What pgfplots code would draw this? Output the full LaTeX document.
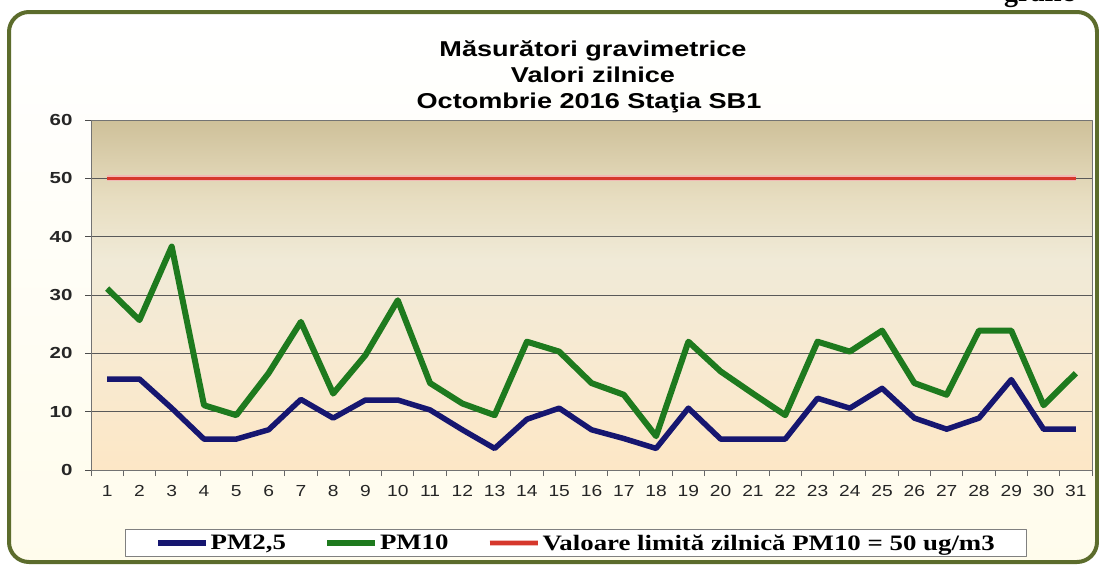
\documentclass[border=0pt]{standalone}
\usepackage{pgfplots}
\pgfplotsset{compat=1.18}
\usepackage{fontspec}
\setmainfont{Liberation Sans}
\newfontfamily\serifb{Liberation Serif}
\definecolor{framecol}{RGB}{92,108,44}
\definecolor{pmblue}{RGB}{22,22,112}
\definecolor{pmgreen}{RGB}{30,122,30}
\definecolor{limred}{RGB}{214,56,44}
\definecolor{bgA}{RGB}{253,231,198}
\definecolor{bgB}{RGB}{247,234,210}
\definecolor{bgC}{RGB}{240,234,215}
\definecolor{bgD}{RGB}{231,221,192}
\definecolor{bgE}{RGB}{206,192,153}
\pgfdeclareverticalshading{plotbg}{100bp}{color(0bp)=(bgA); color(25bp)=(bgA); color(42bp)=(bgB); color(55bp)=(bgC); color(64bp)=(bgD); color(75bp)=(bgE); color(100bp)=(bgE)}

\pgfplotstableread{
day pm25 pm10 lim
1 15.6 31.1 50
2 15.6 25.7 50
3 10.6 38.3 50
4 5.3 11.1 50
5 5.3 9.4 50
6 6.9 16.6 50
7 12.1 25.4 50
8 8.9 13.1 50
9 12.0 19.7 50
10 12.0 29.1 50
11 10.3 14.9 50
12 6.9 11.4 50
13 3.7 9.4 50
14 8.7 22.0 50
15 10.6 20.3 50
16 6.9 14.9 50
17 5.4 12.9 50
18 3.7 5.8 50
19 10.6 22.0 50
20 5.3 16.9 50
21 5.3 13.1 50
22 5.3 9.4 50
23 12.3 22.0 50
24 10.6 20.3 50
25 14.0 23.9 50
26 8.9 14.9 50
27 7.0 12.9 50
28 8.9 23.9 50
29 15.5 23.9 50
30 7.0 11.1 50
31 7.0 16.6 50
}\datatable

\begin{document}
\begin{tikzpicture}
\useasboundingbox (0,0) rectangle (1099bp,-565bp);
\fill[white] (0,0) rectangle (1099bp,-565bp);
\shade[top color=white, bottom color={rgb,255:red,255;green,252;blue,236}, rounded corners=20bp] (9bp,-12bp) rectangle (1097bp,-562bp);
\draw[framecol, line width=4bp, rounded corners=20bp] (9bp,-12bp) rectangle (1097bp,-562bp);
\node[anchor=base west, inner sep=0pt, font=\serifb\bfseries\fontsize{28bp}{30bp}\selectfont] at (1004bp,-1.5bp) {grafic};

\node[anchor=base, inner sep=0pt, font=\bfseries\fontsize{21.5bp}{24bp}\selectfont] at (593bp,-56bp) {\scalebox{1.26}[1]{Măsurători gravimetrice}};
\node[anchor=base, inner sep=0pt, font=\bfseries\fontsize{21.5bp}{24bp}\selectfont] at (593bp,-82bp) {\scalebox{1.26}[1]{Valori zilnice}};
\node[anchor=base, inner sep=0pt, font=\bfseries\fontsize{21.5bp}{24bp}\selectfont] at (589bp,-108bp) {\scalebox{1.26}[1]{Octombrie 2016 Staţia SB1}};

\begin{axis}[
  at={(91bp,-470bp)}, anchor=south west,
  scale only axis, width=1001bp, height=350bp,
  xmin=0.5, xmax=31.5, ymin=0, ymax=60,
  /pgf/number format/assume math mode=true,
  axis background/.style={shade, shading=plotbg},
  axis line style={draw=black!55, line width=1bp},
  xtick={1,...,31},
  major x tick style={draw=none},
  minor xtick={0.5,1.5,...,31.5},
  minor tick length=6bp,
  minor x tick style={draw=black!60, line width=1bp},
  ytick={0,10,...,60},
  major tick length=6bp,
  y tick style={draw=black!70, line width=1bp},
  tick align=outside, tick pos=left,
  ymajorgrids,
  grid style={draw=black!65, line width=1bp},
  xticklabel={\scalebox{1.2}[1]{\pgfmathprintnumber{\tick}}},
  yticklabel={\scalebox{1.28}[1]{\pgfmathprintnumber{\tick}}},
  xticklabel style={font=\fontsize{16bp}{18bp}\selectfont, text=black!85, yshift=-6bp},
  yticklabel style={font=\bfseries\fontsize{16bp}{18bp}\selectfont, text=black!85, xshift=-9bp},
  legend columns=3,
  legend style={at={(0.4845,-0.2086)}, anchor=center, draw=black!50, line width=1bp, fill=white,
    font=\serifb\bfseries\fontsize{22bp}{23bp}\selectfont,
    /tikz/every even column/.append style={column sep=36bp},
    inner xsep=30bp, inner ysep=3bp},
  legend image code/.code={\draw[#1] (0bp,0bp) -- (48bp,0bp);},
  line join=round,
]
\addplot[pmblue, line width=5.5bp] table[x=day, y=pm25] {\datatable};
\addlegendentry{\scalebox{1.22}[1]{PM2,5}}
\addplot[pmgreen, line width=6bp] table[x=day, y=pm10] {\datatable};
\addlegendentry{\scalebox{1.22}[1]{PM10}}
\addplot[limred, line width=3.5bp, preaction={draw=limred!35, line width=6bp}] table[x=day, y=lim] {\datatable};
\addlegendentry{\scalebox{1.22}[1]{Valoare limită zilnică PM10 = 50 ug/m3}}
\end{axis}
\end{tikzpicture}
\end{document}
